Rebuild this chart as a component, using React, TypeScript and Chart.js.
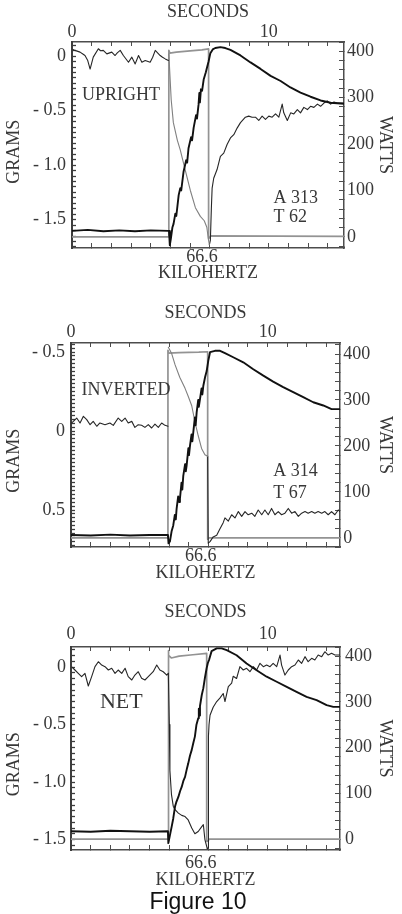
import React, { useEffect, useRef } from "react";
import { Chart, registerables } from "chart.js";

Chart.register(...registerables);

type Pt = [number, number];

// ---------------- axis tick values & labels ----------------
const secondsTickValues = [0, 1, 2, 3, 4, 5, 6, 7, 8, 9, 10, 11, 12, 13];
const secondsLabelValues = [0, 10];
const secondsLabelTexts = ["0", "10"];
const kilohertzLabelValue = 6.6;
const kilohertzLabelText = "66.6";
const wattsTickStep = 20;
const wattsLabelValues = [0, 100, 200, 300, 400];
const wattsLabelTexts = ["0", "100", "200", "300", "400"];

const gramsLabelValuesUpright = [0, -0.5, -1.0, -1.5];
const gramsLabelTextsUpright = ["0", "- 0.5", "- 1.0", "- 1.5"];
const gramsLabelValuesInverted = [-0.5, 0, 0.5];
const gramsLabelTextsInverted = ["- 0.5", "0", "0.5"];
const gramsLabelValuesNet = [0, -0.5, -1.0, -1.5];
const gramsLabelTextsNet = ["0", "- 0.5", "- 1.0", "- 1.5"];

// ---------------- panel 1 : UPRIGHT ----------------
const uprightGramsBefore: Pt[] = [
  [0.05, 0.06], [0.15, 0.053], [0.41, 0.037], [0.55, 0.02], [0.66, 0.006], [0.8, -0.04], [0.92, -0.118], [1.08, -0.009],
  [1.34, 0.068], [1.45, 0.05], [1.59, 0.053], [1.77, 0.021], [2.02, 0.037], [2.19, 0.006], [2.3, 0.03], [2.45, 0.053],
  [2.61, 0.006], [2.87, -0.056], [3.04, -0.009], [3.21, -0.071], [3.38, 0.006], [3.55, -0.056], [3.72, -0.04],
  [3.97, -0.056], [4.1, -0.01], [4.23, 0.053], [4.48, 0.006], [4.6, -0.01], [4.74, -0.025], [4.9, -0.04],
];
const uprightGramsOn: Pt[] = [
  [4.92, 0.02], [5.04, -0.4], [5.15, -0.61], [5.35, -0.77], [5.5, -0.86], [5.76, -1.05], [6.01, -1.23],
  [6.27, -1.39], [6.52, -1.47], [6.72, -1.51], [6.85, -1.57], [6.93, -1.68], [6.98, -1.73],
];
const uprightGramsAfter: Pt[] = [
  [6.98, -1.73], [7.03, -1.69], [7.08, -1.4], [7.12, -1.21], [7.2, -1.12], [7.37, -1.04], [7.54, -0.92], [7.71, -0.89],
  [7.88, -0.81], [8.05, -0.75], [8.22, -0.72], [8.39, -0.66], [8.56, -0.61], [8.81, -0.56], [8.98, -0.55],
  [9.15, -0.56], [9.32, -0.56], [9.49, -0.59], [9.66, -0.55], [9.83, -0.58], [10.0, -0.55], [10.17, -0.56],
  [10.34, -0.53], [10.51, -0.56], [10.68, -0.44], [10.76, -0.52], [10.94, -0.59], [11.11, -0.52], [11.27, -0.53],
  [11.45, -0.49], [11.61, -0.52], [11.78, -0.47], [11.96, -0.49], [12.12, -0.46], [12.29, -0.47], [12.47, -0.44],
  [12.63, -0.46], [12.8, -0.43], [12.97, -0.41], [13.14, -0.44], [13.31, -0.42], [13.48, -0.43], [13.65, -0.43],
  [13.82, -0.43],
];
const uprightTemp: Pt[] = [
  [0, 13], [0.8, 15], [1.6, 12], [2.4, 14], [3.2, 12], [4.0, 14], [4.9, 13], [4.93, 13], [4.97, -18], [5.02, -5],
  [5.1, 20], [5.16, 28], [5.25, 50], [5.3, 45], [5.42, 90], [5.5, 105], [5.55, 100], [5.67, 141], [5.8, 165],
  [5.85, 160], [5.92, 191], [6.05, 215], [6.1, 208], [6.18, 235], [6.3, 262], [6.35, 255], [6.43, 285], [6.47, 310],
  [6.5, 290], [6.55, 318], [6.61, 315], [6.69, 339], [6.8, 355], [6.86, 365], [6.94, 378], [7.03, 396], [7.15, 404],
  [7.28, 407], [7.54, 409], [7.79, 407], [8.05, 403], [8.56, 391], [9.07, 376], [9.58, 362], [10.09, 347],
  [10.6, 336], [11.1, 322], [11.61, 311], [12.12, 302], [12.63, 294], [13.14, 289], [13.82, 287],
];
const uprightWatts: Pt[] = [
  [0, 0], [4.92, 0], [4.92, 402], [4.97, 396], [5.3, 398], [6.0, 401], [6.6, 403], [6.94, 405], [6.94, -3],
  [7.0, -2], [7.05, 2], [13.82, 1],
];

// ---------------- panel 2 : INVERTED ----------------
const invertedGramsBefore: Pt[] = [
  [0.02, -0.05], [0.12, -0.061], [0.29, -0.082], [0.46, -0.051], [0.63, -0.093], [0.8, -0.072], [0.97, -0.04],
  [1.13, -0.061], [1.31, -0.03], [1.47, -0.051], [1.73, -0.04], [1.98, -0.051], [2.15, -0.036], [2.4, -0.082],
  [2.58, -0.061], [2.75, -0.082], [2.91, -0.051], [3.09, -0.061], [3.25, -0.023], [3.42, -0.04], [3.59, -0.036],
  [3.76, -0.023], [3.93, -0.04], [4.1, -0.019], [4.27, -0.044], [4.44, -0.023], [4.61, -0.051], [4.78, -0.036],
  [4.93, -0.03],
];
const invertedGramsOn: Pt[] = [
  [4.95, -0.53], [5.12, -0.49], [5.29, -0.42], [5.53, -0.34], [5.8, -0.27], [5.96, -0.22], [6.14, -0.16],
  [6.3, -0.06], [6.47, 0.03], [6.64, 0.11], [6.81, 0.15], [6.95, 0.16],
];
const invertedGramsAfter: Pt[] = [
  [6.95, 0.16], [6.98, 0.71], [7.07, 0.7], [7.23, 0.67], [7.41, 0.66], [7.57, 0.62], [7.74, 0.58], [7.83, 0.55],
  [8.0, 0.57], [8.17, 0.53], [8.34, 0.55], [8.51, 0.51], [8.68, 0.54], [8.85, 0.51], [9.01, 0.53], [9.19, 0.52],
  [9.35, 0.54], [9.52, 0.5], [9.7, 0.53], [9.86, 0.5], [10.03, 0.53], [10.2, 0.49], [10.37, 0.53], [10.54, 0.51],
  [10.71, 0.53], [10.88, 0.52], [11.05, 0.49], [11.22, 0.52], [11.39, 0.51], [11.56, 0.54], [11.73, 0.52],
  [11.9, 0.51], [12.06, 0.52], [12.24, 0.51], [12.4, 0.52], [12.57, 0.51], [12.75, 0.52], [12.91, 0.51],
  [13.08, 0.53], [13.25, 0.51], [13.42, 0.53], [13.59, 0.5], [13.68, 0.51],
];
const invertedTemp: Pt[] = [
  [0, 6], [1, 5], [2, 7], [3, 5], [4, 6], [4.93, 6], [4.96, -12], [5.03, -8], [5.12, 15], [5.2, 27], [5.28, 50],
  [5.33, 40], [5.37, 63], [5.45, 90], [5.5, 78], [5.54, 85], [5.62, 120], [5.66, 105], [5.71, 135], [5.8, 160],
  [5.84, 145], [5.88, 157], [5.97, 195], [6.0, 180], [6.05, 200], [6.13, 225], [6.17, 210], [6.22, 230], [6.3, 262],
  [6.34, 245], [6.39, 273], [6.47, 300], [6.5, 285], [6.56, 302], [6.64, 325], [6.68, 312], [6.73, 331], [6.82, 350],
  [6.9, 363], [6.98, 385], [7.07, 404], [7.32, 407], [7.58, 407], [7.83, 402], [8.25, 393], [8.76, 382],
  [9.27, 367], [9.78, 353], [10.28, 340], [10.79, 328], [11.3, 317], [11.81, 306], [12.32, 295], [12.83, 288],
  [13.25, 280], [13.68, 280],
];
const invertedWatts: Pt[] = [
  [0, 0], [4.93, 0], [4.93, 408], [4.97, 402], [5.5, 403], [6.5, 404], [6.95, 405], [6.95, -3], [7.02, 0],
  [13.68, 0],
];

// ---------------- panel 3 : NET ----------------
const netGramsBefore: Pt[] = [
  [0.05, 0.0], [0.2, -0.026], [0.37, -0.055], [0.54, -0.084], [0.71, -0.055], [0.88, -0.165], [1.05, -0.084],
  [1.22, 0.003], [1.39, 0.046], [1.56, 0.017], [1.73, 0.003], [1.9, -0.026], [2.07, -0.011], [2.24, -0.055],
  [2.4, -0.026], [2.58, -0.055], [2.75, -0.011], [2.91, -0.084], [3.09, -0.113], [3.25, -0.07], [3.42, -0.041],
  [3.59, -0.098], [3.76, -0.113], [3.93, -0.084], [4.18, -0.041], [4.36, 0.017], [4.52, -0.026], [4.69, -0.041],
  [4.87, -0.07], [4.95, -0.055],
];
const netGramsOn: Pt[] = [
  [4.95, -0.055], [5.0, -0.5], [5.03, -0.9], [5.11, -1.11], [5.2, -1.21], [5.29, -1.24], [5.46, -1.27],
  [5.63, -1.29], [5.8, -1.3], [5.96, -1.33], [6.14, -1.4], [6.3, -1.45], [6.47, -1.43], [6.64, -1.39],
  [6.73, -1.37], [6.81, -1.5], [6.9, -1.56], [6.93, -1.58],
];
const netGramsAfter: Pt[] = [
  [6.93, -1.58], [6.97, -1.57], [6.99, -0.6], [7.02, -0.5], [7.07, -0.42], [7.23, -0.35], [7.41, -0.3],
  [7.57, -0.27], [7.74, -0.23], [7.83, -0.3], [8.0, -0.17], [8.17, -0.14], [8.25, -0.08], [8.42, -0.1],
  [8.59, 0.003], [8.76, -0.026], [8.93, -0.011], [9.1, -0.041], [9.27, 0.003], [9.44, -0.026], [9.61, 0.032],
  [9.78, 0.003], [9.95, 0.017], [10.12, 0.003], [10.28, 0.032], [10.46, 0.003], [10.63, 0.104], [10.71, 0.017],
  [10.88, -0.07], [11.05, -0.026], [11.22, 0.003], [11.39, 0.017], [11.56, 0.061], [11.73, 0.032], [11.9, 0.09],
  [12.06, 0.046], [12.24, 0.076], [12.4, 0.061], [12.57, 0.104], [12.75, 0.09], [12.91, 0.133], [13.08, 0.104],
  [13.25, 0.119], [13.42, 0.104], [13.68, 0.104],
];
const netTemp: Pt[] = [
  [0, 17], [1, 16], [2, 18], [3, 17], [4, 16], [4.93, 17], [4.95, -9], [5.12, 27], [5.2, 45], [5.29, 71],
  [5.35, 80], [5.46, 92], [5.55, 105], [5.63, 114], [5.72, 128], [5.8, 136], [5.9, 155], [5.96, 165], [6.05, 182],
  [6.14, 195], [6.22, 210], [6.3, 224], [6.38, 250], [6.47, 264], [6.5, 285], [6.53, 270], [6.56, 291],
  [6.65, 315], [6.73, 330], [6.82, 355], [6.9, 374], [6.96, 385], [7.03, 393], [7.15, 411], [7.41, 417],
  [7.66, 417], [7.92, 413], [8.42, 402], [8.93, 384], [9.44, 369], [9.95, 355], [10.46, 344], [10.97, 333],
  [11.47, 322], [11.98, 311], [12.49, 304], [13.0, 293], [13.34, 289], [13.68, 289],
];
const netWatts: Pt[] = [
  [0, 0], [4.94, 0], [4.94, 412], [4.98, 402], [5.1, 396], [5.5, 400], [6.2, 403], [6.9, 406], [6.9, -5],
  [6.98, -4], [7.02, 0], [13.68, 0],
];

// ---------------- styling / layout ----------------
const SERIF = "'Liberation Serif', 'Times New Roman', Times, serif";
const TEXT = "#383838";
const AXIS = "#4d4d4d";
const GRAMS_DARK = "#262626";
const GRAMS_GRAY = "#808080";

interface Note { text: string; t: number; g: number; size: number }
interface PanelSpec {
  top: number; height: number;
  left: number; right: number; areaTop: number; areaBottom: number;
  xMax: number;
  gMin: number; gMax: number; gReverse: boolean; gStep: number;
  gLabelValues: number[]; gLabelTexts: string[];
  wMin: number; wMax: number;
  grams: { data: Pt[]; color: string }[];
  temp: Pt[]; watts: Pt[];
  notes: Note[];
  pad: { secTitle: number; secTicks: number; khzTicks: number; khzTitle: number; gTicks: number; gTitle: number; wTicks: number; wTitle: number };
  gramsTitle: string;
}

const panels: PanelSpec[] = [
  {
    top: 0, height: 290, left: 72, right: 344, areaTop: 42, areaBottom: 248, xMax: 13.82,
    gMin: -1.76, gMax: 0.13, gReverse: false, gStep: 0.05,
    gLabelValues: gramsLabelValuesUpright, gLabelTexts: gramsLabelTextsUpright,
    wMin: -24, wMax: 420,
    grams: [
      { data: uprightGramsBefore, color: GRAMS_DARK },
      { data: uprightGramsOn, color: GRAMS_GRAY },
      { data: uprightGramsAfter, color: GRAMS_DARK },
    ],
    temp: uprightTemp, watts: uprightWatts,
    notes: [
      { text: "UPRIGHT", t: 0.51, g: -0.36, size: 18 },
      { text: "A 313", t: 10.24, g: -1.3, size: 18 },
      { text: "T 62", t: 10.24, g: -1.48, size: 18 },
    ],
    pad: { secTitle: 1.2, secTicks: 3.2, khzTicks: 3.7, khzTitle: 5.7, gTicks: 10, gTitle: 3.7, wTicks: 8, wTitle: 6.2 },
    gramsTitle: "GRAMS   ",
  },
  {
    top: 300, height: 290, left: 71, right: 340, areaTop: 43, areaBottom: 247, xMax: 13.68,
    gMin: -0.557, gMax: 0.734, gReverse: true, gStep: 0.025,
    gLabelValues: gramsLabelValuesInverted, gLabelTexts: gramsLabelTextsInverted,
    wMin: -20, wMax: 424,
    grams: [
      { data: invertedGramsBefore, color: GRAMS_DARK },
      { data: invertedGramsOn, color: GRAMS_GRAY },
      { data: invertedGramsAfter, color: GRAMS_DARK },
    ],
    temp: invertedTemp, watts: invertedWatts,
    notes: [
      { text: "INVERTED", t: 0.54, g: -0.26, size: 18 },
      { text: "A 314", t: 10.28, g: 0.256, size: 18 },
      { text: "T 67", t: 10.28, g: 0.394, size: 18 },
    ],
    pad: { secTitle: 2.2, secTicks: 3.7, khzTicks: 3.2, khzTitle: 5.7, gTicks: 10, gTitle: 3.7, wTicks: 8.3, wTitle: 6.2 },
    gramsTitle: "GRAMS       ",
  },
  {
    top: 600, height: 295, left: 71, right: 340, areaTop: 47, areaBottom: 250, xMax: 13.68,
    gMin: -1.591, gMax: 0.174, gReverse: false, gStep: 0.05,
    gLabelValues: gramsLabelValuesNet, gLabelTexts: gramsLabelTextsNet,
    wMin: -24, wMax: 420,
    grams: [
      { data: netGramsBefore, color: GRAMS_DARK },
      { data: netGramsOn, color: GRAMS_DARK },
      { data: netGramsAfter, color: GRAMS_DARK },
    ],
    temp: netTemp, watts: netWatts,
    notes: [{ text: "NET", t: 1.47, g: -0.309, size: 22 }],
    pad: { secTitle: 1.7, secTicks: 6.2, khzTicks: 7.7, khzTitle: 4.2, gTicks: 9, gTitle: 3.7, wTicks: 10, wTitle: 6.2 },
    gramsTitle: "GRAMS       ",
  },
];

function labelFor(values: number[], texts: string[], v: number): string {
  const i = values.findIndex((x) => Math.abs(x - v) < 1e-6);
  return i >= 0 ? texts[i] : "";
}

function stepTicks(min: number, max: number, step: number): number[] {
  const out: number[] = [];
  for (let i = Math.ceil(min / step - 1e-9); i * step <= max + 1e-9; i++) out.push(+(i * step).toFixed(4));
  return out;
}

function buildConfig(s: PanelSpec): any {
  const font = { family: SERIF, size: 18, lineHeight: 1.2 };
  const toXY = (pts: Pt[]) => pts.map(([x, y]) => ({ x, y }));
  const common = { xAxisID: "x", pointRadius: 0, tension: 0, fill: false, borderJoinStyle: "round", borderCapStyle: "round" };
  const datasets = [
    { ...common, data: toXY(s.temp), borderColor: "#111111", borderWidth: 1.9, yAxisID: "y2" },
    ...s.grams.map((g) => ({ ...common, data: toXY(g.data), borderColor: g.color, borderWidth: 1.1, yAxisID: "y" })),
    { ...common, data: toXY(s.watts), borderColor: "#939393", borderWidth: 1.7, yAxisID: "y2" },
  ];
  const xTickVals = secondsTickValues.filter((v) => v <= s.xMax);
  const khzTickVals = [...xTickVals, kilohertzLabelValue].sort((a, b) => a - b);
  const gTickVals = stepTicks(s.gMin, s.gMax, s.gStep);
  const wTickVals = stepTicks(s.wMin, s.wMax, wattsTickStep);
  const border = { display: true, color: AXIS, width: 1.5 };

  const notesPlugin = {
    id: "notes",
    afterDatasetsDraw(chart: any) {
      const { ctx, scales } = chart;
      ctx.save();
      ctx.fillStyle = TEXT;
      ctx.textAlign = "left";
      ctx.textBaseline = "middle";
      for (const n of s.notes) {
        ctx.font = `${n.size}px ${SERIF}`;
        ctx.fillText(n.text, scales.x.getPixelForValue(n.t), scales.y.getPixelForValue(n.g));
      }
      ctx.restore();
    },
  };

  return {
    type: "line",
    data: { datasets },
    plugins: [notesPlugin],
    options: {
      animation: false,
      responsive: false,
      events: [],
      layout: { padding: 0 },
      plugins: { legend: { display: false }, tooltip: { enabled: false } },
      scales: {
        x: {
          type: "linear", position: "top", min: 0, max: s.xMax,
          afterBuildTicks: (sc: any) => { sc.ticks = xTickVals.map((value) => ({ value })); },
          afterFit: (sc: any) => { sc.height = s.areaTop; },
          ticks: {
            autoSkip: false, maxRotation: 0, padding: s.pad.secTicks, color: TEXT, font,
            callback: (v: any) => labelFor(secondsLabelValues, secondsLabelTexts, Number(v)),
          },
          grid: { drawOnChartArea: false, drawTicks: true, tickLength: -4, tickColor: AXIS, tickWidth: 1 },
          border,
          title: { display: true, text: "SECONDS", color: TEXT, font, padding: { top: s.pad.secTitle, bottom: 0 } },
        },
        x2: {
          type: "linear", position: "bottom", min: 0, max: s.xMax,
          afterBuildTicks: (sc: any) => { sc.ticks = khzTickVals.map((value) => ({ value })); },
          afterFit: (sc: any) => { sc.height = s.height - s.areaBottom; },
          ticks: {
            autoSkip: false, maxRotation: 0, padding: s.pad.khzTicks, color: TEXT, font,
            callback: (v: any) => (Math.abs(Number(v) - kilohertzLabelValue) < 1e-6 ? kilohertzLabelText : ""),
          },
          grid: {
            drawOnChartArea: false, drawTicks: true, tickLength: -5, tickWidth: 1,
            tickColor: (ctx: any) => (ctx.tick && Math.abs(ctx.tick.value - kilohertzLabelValue) < 1e-6 ? "rgba(0,0,0,0)" : AXIS),
          },
          border,
          title: { display: true, text: "KILOHERTZ", color: TEXT, font, padding: { top: 0, bottom: s.pad.khzTitle } },
        },
        y: {
          type: "linear", position: "left", min: s.gMin, max: s.gMax, reverse: s.gReverse,
          afterBuildTicks: (sc: any) => { sc.ticks = gTickVals.map((value) => ({ value })); },
          afterFit: (sc: any) => { sc.width = s.left; },
          ticks: {
            autoSkip: false, padding: s.pad.gTicks, color: TEXT, font,
            callback: (v: any) => labelFor(s.gLabelValues, s.gLabelTexts, Number(v)),
          },
          grid: { drawOnChartArea: false, drawTicks: true, tickLength: -4, tickColor: "#3d3d3d", tickWidth: 1.3 },
          border: { display: true, color: "#3d3d3d", width: 2 },
          title: { display: true, text: s.gramsTitle, color: TEXT, font, padding: { top: s.pad.gTitle, bottom: 0 } },
        },
        y2: {
          type: "linear", position: "right", min: s.wMin, max: s.wMax,
          afterBuildTicks: (sc: any) => { sc.ticks = wTickVals.map((value) => ({ value })); },
          afterFit: (sc: any) => { sc.width = 402 - s.right; },
          ticks: {
            autoSkip: false, padding: s.pad.wTicks, color: TEXT, font,
            callback: (v: any) => labelFor(wattsLabelValues, wattsLabelTexts, Number(v)),
          },
          grid: { drawOnChartArea: false, drawTicks: true, tickLength: -5, tickColor: AXIS, tickWidth: 1 },
          border,
          title: { display: true, text: "WATTS", color: TEXT, font, padding: { top: s.pad.wTitle, bottom: 0 } },
        },
      },
    },
  };
}

function Panel({ spec }: { spec: PanelSpec }) {
  const ref = useRef<HTMLCanvasElement>(null);
  useEffect(() => {
    if (!ref.current) return;
    const chart = new Chart(ref.current, buildConfig(spec));
    return () => chart.destroy();
  }, [spec]);
  return (
    <canvas
      ref={ref}
      width={402}
      height={spec.height}
      style={{ position: "absolute", left: 0, top: spec.top, width: 402, height: spec.height, display: "block" }}
    />
  );
}

export default function App() {
  return (
    <div style={{ position: "absolute", left: 0, top: 0, width: 402, height: 914, background: "#ffffff", overflow: "hidden" }}>
      {panels.map((p, i) => (
        <Panel key={i} spec={p} />
      ))}
      <div
        style={{
          position: "absolute", left: 0, top: 888, width: 396, textAlign: "center",
          fontFamily: "'Liberation Sans', Arial, sans-serif", fontSize: 23, lineHeight: "26px", color: "#111111",
        }}
      >
        Figure 10
      </div>
    </div>
  );
}
